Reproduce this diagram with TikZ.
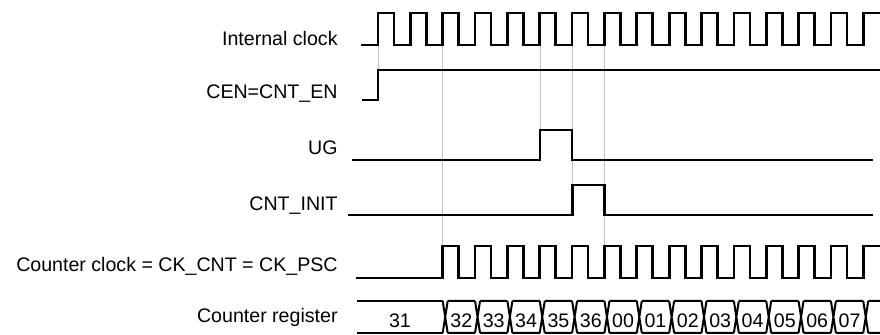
\documentclass[tikz,border=0pt]{standalone}
\usepackage{fontspec}
\setmainfont{Liberation Sans}
\usepackage{tikz}

\begin{document}
\begin{tikzpicture}[x=0.5pt, y=-0.5pt,
    sig/.style={line width=1.35pt, line join=miter},
    bus/.style={line width=1pt},
    guide/.style={draw=black!25, line width=0.5pt},
    lbl/.style={anchor=base east, inner sep=0pt, font=\fontsize{9.8}{12}\selectfont},
    val/.style={anchor=base, inner sep=0pt, font=\fontsize{9.8}{12}\selectfont}
]
\useasboundingbox (0,0) rectangle (880,335);

% signal names
\node[lbl] (lclk)  at (338,46)    {Internal clock};
\node[lbl] (lcen)  at (338,99)    {CEN=CNT\_EN};
\node[lbl] (lug)   at (338,155)   {UG};
\node[lbl] (linit) at (338,211)   {CNT\_INIT};
\node[lbl] (lck)   at (338,271.5) {Counter clock = CK\_CNT = CK\_PSC};
\node[lbl] (lreg)  at (338,323)   {Counter register};

% guide lines
\draw[guide] (378,45) -- (378,70);
\draw[guide] (442.7,45) -- (442.7,246);
\draw[guide] (540,45) -- (540,160);
\draw[guide] (572,45) -- (572,215);
\draw[guide] (604.4,45) -- (604.4,246);

% internal clock
\draw[sig] (361,45) foreach \k in {0,...,14} {
    -- ({378+32.35*\k},45) -- ++(0,-32) -- ++(16,0) -- ++(0,32)
  } -- (863.25,45) -- (863.25,13) -- (880,13);

% CEN
\draw[sig] (362,100) -- (378,100) -- (378,70) -- (880,70);

% UG
\draw[sig] (352,160) -- (540,160) -- (540,130) -- (572,130) -- (572,160) -- (873,160);

% CNT_INIT
\draw[sig] (348,215) -- (572.5,215) -- (572.5,185) -- (604.4,185) -- (604.4,215) -- (873,215);

% counter clock
\draw[sig] (356,278) foreach \k in {2,...,14} {
    -- ({378+32.35*\k},278) -- ++(0,-32) -- ++(16,0) -- ++(0,32)
  } -- (863.25,278) -- (863.25,246) -- (880,246);

% counter register
\draw[bus] (357,301) -- (442.7,301) (357,333) -- (442.7,333);
\node[val] (v31) at (400,328) {31};
\foreach \k/\v in {2/32,3/33,4/34,5/35,6/36,7/00,8/01,9/02,10/03,11/04,12/05,13/06,14/07} {
  \pgfmathsetmacro\ra{378+32.35*\k}
  \pgfmathsetmacro\rb{378+32.35*(\k+1)}
  \draw[bus] (\ra,301) -- ++(5,32) (\ra,333) -- ++(5,-32)
             ({\ra+5},301) -- (\rb,301) ({\ra+5},333) -- (\rb,333);
  \node[val] (v\k) at ({(\ra+5+\rb)/2},328) {\v};
}
\draw[bus] (863.25,301) -- ++(5,32) (863.25,333) -- ++(5,-32)
           (868.25,301) -- (880,301) (868.25,333) -- (880,333);
\end{tikzpicture}
\end{document}
